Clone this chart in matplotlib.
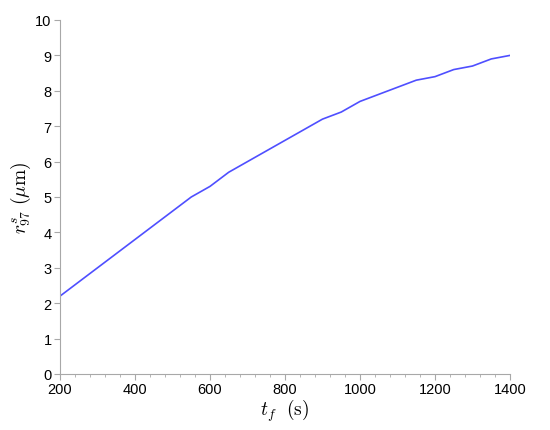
import matplotlib
matplotlib.use("Agg")
import matplotlib.pyplot as plt
from matplotlib.ticker import MultipleLocator

t_f = [200, 250, 300, 350, 400, 450, 500, 550, 600, 650, 700, 750, 800,
       850, 900, 950, 1000, 1050, 1100, 1150, 1200, 1250, 1300, 1350, 1400]
r_s97 = [2.2, 2.6, 3.0, 3.4, 3.8, 4.2, 4.6, 5.0, 5.3, 5.7, 6.0, 6.3, 6.6,
         6.9, 7.2, 7.4, 7.7, 7.9, 8.1, 8.3, 8.4, 8.6, 8.7, 8.9, 9.0]

plt.rcParams['font.family'] = ['Liberation Sans', 'DejaVu Sans']
plt.rcParams['mathtext.fontset'] = 'cm'

fig = plt.figure(figsize=(5.5, 4.31), dpi=100)
ax = fig.add_axes([60/550, 1-375/431, 450/550, 354/431])
ax.plot(t_f, r_s97, color='#4f4fff', lw=1.2)
ax.set_xlim(200, 1400)
ax.set_ylim(0, 10)
ax.xaxis.set_major_locator(MultipleLocator(200))
ax.xaxis.set_minor_locator(MultipleLocator(40))
ax.yaxis.set_major_locator(MultipleLocator(1))
for s in ['top', 'right']:
    ax.spines[s].set_visible(False)
for s in ['left', 'bottom']:
    ax.spines[s].set_color('#a8a8a8')
    ax.spines[s].set_linewidth(0.8)
ax.tick_params(which='major', direction='out', length=4, color='#a8a8a8', labelsize=10.5, labelcolor='black', pad=2)
ax.tick_params(which='minor', direction='out', length=2.5, color='#a8a8a8')
ax.set_xlabel(r'$t_f\ \ \mathrm{(s)}$', fontsize=14, labelpad=0)
ax.set_ylabel(r'$r^s_{97}\ (\mu\mathrm{m})$', fontsize=14, labelpad=2)
fig.savefig('out.png', dpi=100)
